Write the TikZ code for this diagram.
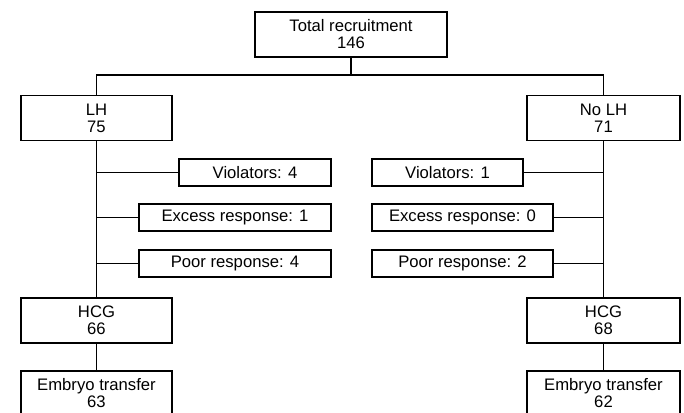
\documentclass[tikz,border=0pt]{standalone}
\usepackage{fontspec}
\setmainfont{Liberation Sans}

\tikzset{every picture/.style={line width=0.75pt}}
\tikzset{
  bigbox/.style={draw, line width=1.1pt, inner sep=0pt, align=center, minimum height=34pt, font=\fontsize{12.5}{12.75}\selectfont},
  smallbox/.style={draw, line width=1.1pt, inner sep=0pt, align=center, minimum height=20.25pt, font=\fontsize{12.5}{12.75}\selectfont},
  link/.style={line width=1.1pt}
}

\begin{document}
\begin{tikzpicture}[x=0.75pt,y=0.75pt,yscale=-1,xscale=1]
\useasboundingbox (0,0) rectangle (684,412);
\clip (0,0) rectangle (684,412);

%Shape: Rectangle -- top
\node [bigbox, minimum width=144pt] (total) at (351,34.5) {Total recruitment\\146};

%Shape: Rectangle -- arms
\node [bigbox, minimum width=113.25pt] (lh) at (96.5,118) {LH\\75};
\node [bigbox, minimum width=114.75pt] (nolh) at (603.5,118) {No LH\\71};

%Shape: Rectangle -- exclusions, left
\node [smallbox, minimum width=114pt] (viol4) at (255,172.5) {Violators: 4};
\node [smallbox, minimum width=144pt] (exc1) at (235,217.5) {Excess response: 1};
\node [smallbox, minimum width=144pt] (poor4) at (235,263.5) {Poor response: 4};

%Shape: Rectangle -- exclusions, right
\node [smallbox, minimum width=113.25pt] (viol1) at (447.5,172.5) {Violators: 1};
\node [smallbox, minimum width=135.75pt] (exc0) at (462.5,217.5) {Excess response: 0};
\node [smallbox, minimum width=135.75pt] (poor2) at (462.5,263.5) {Poor response: 2};

%Shape: Rectangle -- HCG
\node [bigbox, minimum width=113.25pt] (hcg66) at (96.5,320.5) {HCG\\66};
\node [bigbox, minimum width=114.75pt] (hcg68) at (603.5,320.5) {HCG\\68};

%Shape: Rectangle -- transfer
\node [bigbox, minimum width=113.25pt] (et63) at (96.5,393.5) {Embryo transfer\\63};
\node [bigbox, minimum width=114.75pt] (et62) at (603.5,393.5) {Embryo transfer\\62};

%Straight Lines -- split
\coordinate (split) at (351,75);
\draw [link] (total) -- (split);
\draw [link] (lh.north) |- (split) -| (nolh.north);

%Straight Lines -- trunks
\draw [link] (lh) -- (hcg66);
\draw [link] (nolh) -- (hcg68);
\draw [link] (hcg66) -- (et63);
\draw [link] (hcg68) -- (et62);

%Straight Lines -- branches
\draw [link] (viol4.west) -- (viol4.west -| lh);
\draw [link] (exc1.west) -- (exc1.west -| lh);
\draw [link] (poor4.west) -- (poor4.west -| lh);
\draw [link] (viol1.east) -- (viol1.east -| nolh);
\draw [link] (exc0.east) -- (exc0.east -| nolh);
\draw [link] (poor2.east) -- (poor2.east -| nolh);

\end{tikzpicture}
\end{document}
